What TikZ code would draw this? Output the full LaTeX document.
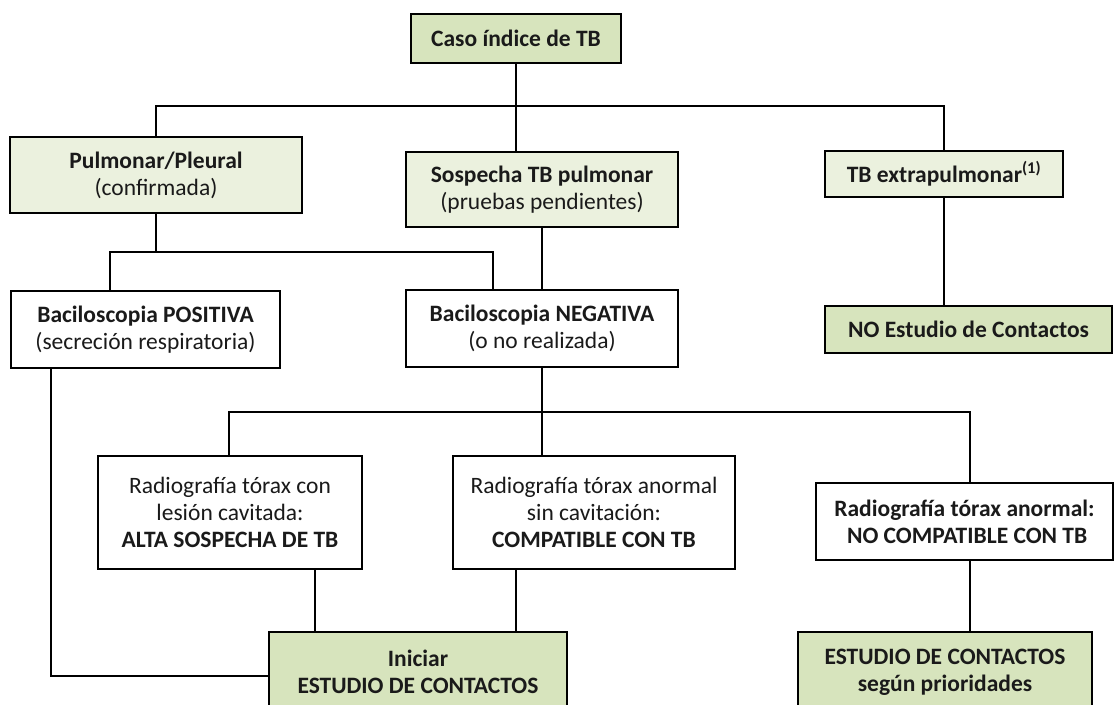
\documentclass[tikz,border=0pt]{standalone}
\usepackage{fontspec}
\setmainfont{Carlito}
\definecolor{darkgreen}{HTML}{D7E4BD}
\definecolor{lightgreen}{HTML}{EBF1DE}
\definecolor{txt}{HTML}{1A1A1A}
\begin{document}
\begin{tikzpicture}[x=1pt,y=-1pt,
  box/.style={draw=black, line width=1.8pt, align=center, inner sep=0pt, text=txt,
    font=\fontsize{23.5}{27}\selectfont},
  dk/.style={box, fill=darkgreen},
  lt/.style={box, fill=lightgreen},
  wh/.style={box, fill=white},
  conn/.style={draw=black, line width=1.8pt}]
\useasboundingbox (0,0) rectangle (1115,704);
\clip (0,0) rectangle (1115,704);
% nodes
\node[dk, minimum width=210pt, minimum height=49pt] (caso) at (516,38.5) {\textbf{Caso índice de TB}};
\node[lt, minimum width=292pt, minimum height=76pt] (pulm) at (156,175) {\textbf{Pulmonar/Pleural}\\(confirmada)};
\node[lt, minimum width=272pt, minimum height=75pt] (sosp) at (542,189.5) {\textbf{Sospecha TB pulmonar}\\(pruebas pendientes)};
\node[lt, minimum width=238pt, minimum height=46pt] (extra) at (944,174) {\textbf{TB extrapulmonar\textsuperscript{(1)}}};
\node[wh, minimum width=269pt, minimum height=77pt] (pos) at (145.5,329.5) {\textbf{Baciloscopia POSITIVA}\\(secreción respiratoria)};
\node[wh, minimum width=272pt, minimum height=77pt] (neg) at (542,328.5) {\textbf{Baciloscopia NEGATIVA}\\(o no realizada)};
\node[dk, minimum width=287pt, minimum height=47pt] (nocont) at (968.5,329.5) {\textbf{NO Estudio de Contactos}};
\node[wh, minimum width=264pt, minimum height=113pt] (rad1) at (230,512.5) {Radiografía tórax con\\lesión cavitada:\\\textbf{ALTA SOSPECHA DE TB}};
\node[wh, minimum width=282pt, minimum height=113pt] (rad2) at (594,512.5) {Radiografía tórax anormal\\sin cavitación:\\\textbf{COMPATIBLE CON TB}};
\node[wh, minimum width=297pt, minimum height=77pt] (rad3) at (964.5,521.5) {\textbf{Radiografía tórax anormal:}\\\textbf{\ NO COMPATIBLE CON TB}};
\node[dk, minimum width=298pt, minimum height=80pt] (ini) at (418,672) {\textbf{Iniciar}\\\textbf{ESTUDIO DE CONTACTOS}};
\node[dk, minimum width=294pt, minimum height=80pt] (est) at (945,672) {\textbf{ESTUDIO DE CONTACTOS}\\\textbf{según prioridades}};
% junction coordinates
\coordinate (b1) at (516,106);
\coordinate (b2) at (156,252);
\coordinate (b2l) at (110,252);
\coordinate (b2r) at (493,252);
\coordinate (b3l) at (229,412);
\coordinate (b3m) at (542,412);
\coordinate (b3r) at (970,412);
\coordinate (r1) at (315,0);
\coordinate (r2) at (516,0);
\coordinate (pl) at (51,676);
% connectors
\draw[conn] (pulm.north) |- (b1) -| (extra.north);
\draw[conn] (caso.south) -- (b1) -- (sosp.north -| b1);
\draw[conn] (pulm.south) -- (b2);
\draw[conn] (pos.north -| b2l) -- (b2l) -- (b2r) -- (neg.north -| b2r);
\draw[conn] (sosp.south) -- (neg.north);
\draw[conn] (extra.south) -- (nocont.north -| extra.south);
\draw[conn] (neg.south) -- (b3m);
\draw[conn] (rad1.north -| b3l) -- (b3l) -- (b3r) -- (rad3.north -| b3r);
\draw[conn] (b3m) -- (rad2.north -| b3m);
\draw[conn] (rad1.south -| r1) -- (ini.north -| r1);
\draw[conn] (rad2.south -| r2) -- (ini.north -| r2);
\draw[conn] (rad3.south -| b3r) -- (est.north -| b3r);
\draw[conn] (pos.south -| pl) -- (pl) -- (ini.west |- pl);
\end{tikzpicture}
\end{document}
